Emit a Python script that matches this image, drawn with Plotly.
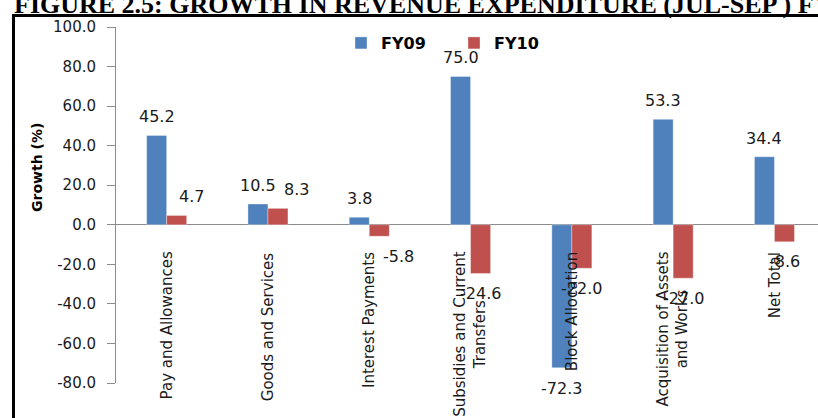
import plotly.graph_objects as go

categories = ["Pay and Allowances", "Goods and Services", "Interest Payments",
              "Subsidies and Current<br>Transfers", "Block Allocation",
              "Acquisition of Assets<br>and Works", "Net Total"]
fy09 = [45.2, 10.5, 3.8, 75.0, -72.3, 53.3, 34.4]
fy10 = [4.7, 8.3, -5.8, -24.6, -22.0, -27.0, -8.6]
y_ticks = [-80, -60, -40, -20, 0, 20, 40, 60, 80, 100]
title_text = "FIGURE 2.5: GROWTH IN REVENUE EXPENDITURE (JUL-SEP ) FY10"

BLUE = "#4F81BD"
RED = "#C0504D"
FONT = "DejaVu Sans"
TXT = "#1a1a1a"

W, H = 818, 418
ML, MR, MT, MB = 116, 0, 27, 35
PW = W - ML - MR
PH = H - MT - MB

def px_x(p):
    return (p - ML) / PW

def px_y(p):
    return (H - MB - p) / PH

fig = go.Figure()
fig.add_trace(go.Bar(name="FY09", x=list(range(len(categories))), y=fy09,
                     marker=dict(color=BLUE, line=dict(color="rgba(255,255,255,0.35)", width=1))))
fig.add_trace(go.Bar(name="FY10", x=list(range(len(categories))), y=fy10,
                     marker=dict(color=RED, line=dict(color="rgba(255,255,255,0.35)", width=1))))

# label nudges (pixels) for a few data labels, matching the reference
nudge10 = {0: 15, 1: 19, 2: 19}

annotations = []
for i, v in enumerate(fy09):
    annotations.append(dict(x=i, y=v, xref="x", yref="y", text=f"{v:.1f}",
                            showarrow=False, xshift=-10, yshift=18.5 if v >= 0 else -21,
                            yanchor="middle", xanchor="center",
                            font=dict(family=FONT, size=16, color=TXT)))
for i, v in enumerate(fy10):
    annotations.append(dict(x=i, y=v, xref="x", yref="y", text=f"{v:.1f}",
                            showarrow=False, xshift=10 + nudge10.get(i, 0),
                            yshift=18.5 if v >= 0 else -20,
                            yanchor="middle", xanchor="center",
                            font=dict(family=FONT, size=16, color=TXT)))
# category labels hanging below the zero line
for i, c in enumerate(categories):
    annotations.append(dict(x=i, y=0, xref="x", yref="y", text=c, textangle=-90,
                            showarrow=False, yshift=-25, yanchor="top", xanchor="center",
                            align="center", font=dict(family=FONT, size=15, color=TXT)))
# y axis title
annotations.append(dict(x=px_x(37), y=px_y(168), xref="paper", yref="paper",
                        text="<b>Growth (%)</b>", textangle=-90, showarrow=False,
                        xanchor="center", yanchor="middle",
                        font=dict(family=FONT, size=14, color="#000")))
# figure caption
annotations.append(dict(x=px_x(12), y=px_y(21), xref="paper", yref="paper",
                        text="<b>" + title_text + "</b>", showarrow=False,
                        xanchor="left", yanchor="bottom",
                        font=dict(family="Liberation Serif", size=26, color="#000")))

shapes = [dict(type="rect", xref="paper", yref="paper",
               x0=px_x(13.5), x1=px_x(W + 20), y0=px_y(H + 20), y1=px_y(15.5),
               line=dict(color="#000", width=3), fillcolor="rgba(0,0,0,0)", layer="above")]

fig.update_layout(
    width=W, height=H,
    margin=dict(l=ML, r=MR, t=MT, b=MB, pad=0),
    paper_bgcolor="white", plot_bgcolor="white",
    barmode="group", bargap=0.605, bargroupgap=0,
    showlegend=True,
    legend=dict(orientation="h", x=px_x(341), y=px_y(43), xanchor="left", yanchor="middle",
                font=dict(family=FONT, size=16, color="#000", weight="bold"),
                bgcolor="rgba(0,0,0,0)", entrywidth=68, entrywidthmode="pixels",
                itemwidth=30, traceorder="normal"),
    xaxis=dict(range=[-0.5, -0.5 + PW / 101.3], showticklabels=False, ticks="",
               showline=False, showgrid=False, zeroline=False, fixedrange=True),
    yaxis=dict(range=[-80, 100], tickvals=y_ticks, ticktext=[f"{t:.1f}" for t in y_ticks],
               showgrid=False, showline=True, linecolor="#8c8c8c", linewidth=1,
               ticks="outside", ticklen=8, tickcolor="#8c8c8c",
               zeroline=True, zerolinecolor="#8c8c8c", zerolinewidth=1,
               tickfont=dict(family=FONT, size=15, color=TXT), ticklabelstandoff=8),
    annotations=annotations,
    shapes=shapes,
)

fig.write_html("out.html", config={"displayModeBar": False},
               post_script="document.body.style.margin='0';document.body.style.overflow='hidden';")
